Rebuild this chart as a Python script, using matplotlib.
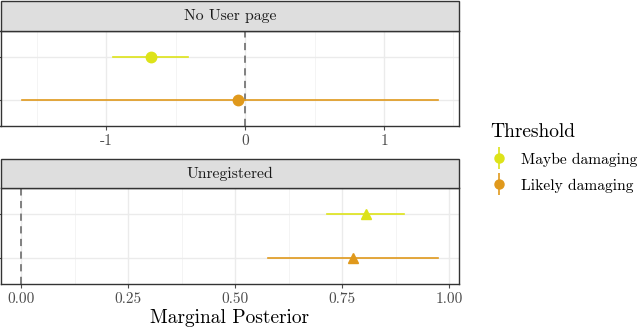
import matplotlib.pyplot as plt
from matplotlib.lines import Line2D
from matplotlib.patches import Rectangle

plt.rcParams['font.family'] = ['cmr10', 'DejaVu Serif']
plt.rcParams['axes.formatter.use_mathtext'] = True

# data
thresholds = ["Maybe damaging", "Likely damaging"]
colors = ["#dde319", "#e0991c"]

nouser_est = [-0.68, -0.05]
nouser_lo = [-0.95, -1.61]
nouser_hi = [-0.41, 1.39]

unreg_est = [0.806, 0.776]
unreg_lo = [0.715, 0.577]
unreg_hi = [0.895, 0.974]

panels = [
    ("No User page", nouser_est, nouser_lo, nouser_hi, "o",
     (-1.763, 1.54), [-1, 0, 1], ["-1", "0", "1"], [-1.5, -0.5, 0.5, 1.5]),
    ("Unregistered", unreg_est, unreg_lo, unreg_hi, "^",
     (-0.049, 1.023), [0, 0.25, 0.5, 0.75, 1.0],
     ["0.00", "0.25", "0.50", "0.75", "1.00"], [0.125, 0.375, 0.625, 0.875]),
]

fig = plt.figure(figsize=(6.4, 3.3), dpi=100)
W, H = 640, 330
border = "#333333"

# pixel boxes: (panel top, panel bottom, strip top)
boxes = [(31, 126, 1), (188, 284, 159)]
x0, x1 = 0.5, 459

for (title, est, lo, hi, mk, xlim, ticks, tlabels, minor), (pt, pb, st) in zip(panels, boxes):
    ax = fig.add_axes([x0 / W, 1 - pb / H, (x1 - x0) / W, (pb - pt) / H])
    ax.set_xlim(*xlim)
    ax.set_ylim(0.4, 2.6)
    for t in ticks:
        ax.axvline(t, color="#ebebeb", lw=1.0, zorder=0)
    for t in minor:
        ax.axvline(t, color="#f2f2f2", lw=0.6, zorder=0)
    for y in [1, 2]:
        ax.axhline(y, color="#ebebeb", lw=1.0, zorder=0)
    ax.axvline(0, color="#777777", lw=1.3, ls=(0, (4, 3)), zorder=1)
    for i in range(2):
        y = 2 - i
        ax.plot([lo[i], hi[i]], [y, y], color=colors[i], lw=1.2, zorder=2)
        ax.plot(est[i], y, marker=mk, color=colors[i], markersize=7.5,
                linestyle="None", zorder=3)
    ax.set_xticks(ticks)
    ax.set_xticklabels(tlabels)
    ax.set_yticks([1, 2])
    ax.set_yticklabels([])
    ax.tick_params(axis="x", colors="#4d4d4d", labelsize=11, length=3, width=0.8, pad=3)
    ax.tick_params(axis="y", colors="#4d4d4d", length=3, width=0.8)
    for s in ax.spines.values():
        s.set_color(border)
        s.set_linewidth(1.0)
    # strip
    fig.patches.append(Rectangle((x0 / W, 1 - pt / H), (x1 - x0) / W, (pt - st) / H,
                                 transform=fig.transFigure, facecolor="#dedede",
                                 edgecolor=border, lw=1.0, zorder=0))
    fig.text((x0 + x1) / 2 / W, 1 - (pt + st) / 2 / H, title, ha="center", va="center",
             fontsize=11.3, color="#1a1a1a")
    if title == "Unregistered":
        ax.set_xlabel("Marginal Posterior", fontsize=14, labelpad=2)

# legend
handles = []
for c in colors:
    handles.append((Line2D([], [], color=c, marker="|", markersize=16, markeredgewidth=1.2,
                           linestyle="None"),
                    Line2D([], [], color=c, marker="o", markersize=6.5, linestyle="None")))
leg = fig.legend(handles, thresholds, loc="upper left", bbox_to_anchor=(476 / W, 1 - 109 / H),
                 frameon=False, title="Threshold", fontsize=11.2, title_fontsize=14,
                 handlelength=1.2, handletextpad=0.8, labelspacing=0.75)
leg._legend_box.align = "left"

fig.savefig("out.png", dpi=100)
